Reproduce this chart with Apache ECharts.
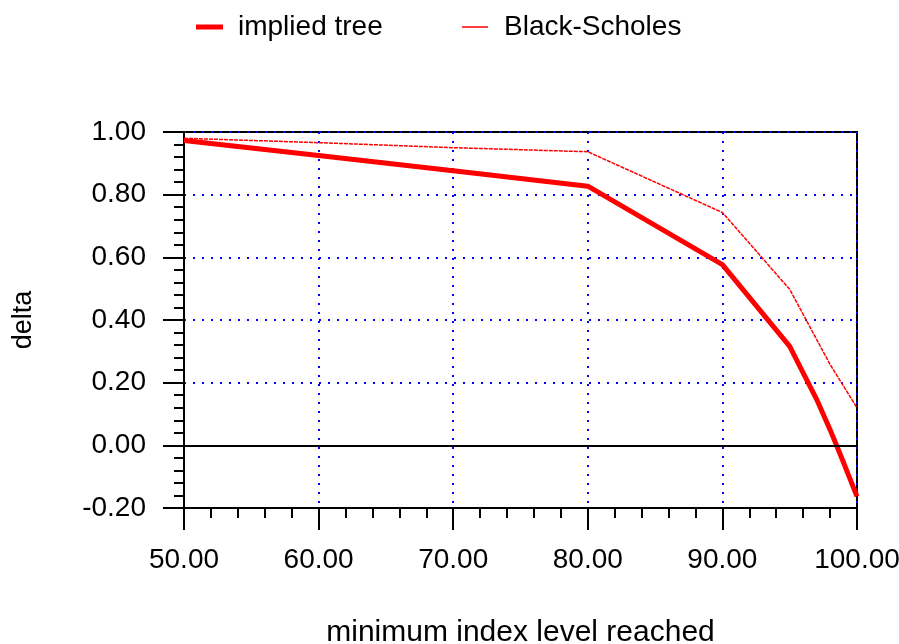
<!DOCTYPE html>
<html>
<head>
<meta charset="utf-8">
<script src="https://cdn.jsdelivr.net/npm/echarts@6/dist/echarts.min.js"></script>
<style>html,body{margin:0;padding:0;background:#fff;}#c{width:899px;height:644px;}</style>
</head>
<body>
<div id="c"></div>
<script>
const seriesNames = ['implied tree', 'Black-Scholes'];
const xImplied = [50, 60, 70, 80, 90, 95, 97, 98, 99, 100];
const impliedTree = [0.973, 0.925, 0.876, 0.827, 0.577, 0.316, 0.147, 0.05, -0.055, -0.163];
const xBS = [50, 60, 70, 80, 90, 95, 98, 100];
const blackScholes = [0.98, 0.966, 0.95, 0.937, 0.743, 0.498, 0.258, 0.12];
const xTitle = 'minimum index level reached';
const yTitle = 'delta';

const FONT = 'Liberation Sans, Arial, sans-serif';
const chart = echarts.init(document.getElementById('c'), null, {renderer: 'canvas'});
chart.setOption({
  animation: false,
  backgroundColor: '#fff',
  legend: [
    {data: [{name: seriesNames[0], icon: 'rect'}], left: 196, top: 13, padding: 0, itemWidth: 27, itemHeight: 5,
     itemStyle: {color: '#ff0000'},
     textStyle: {fontFamily: FONT, fontSize: 28, color: '#000', padding: [0, 0, 0, 10]}},
    {data: [{name: seriesNames[1], icon: 'rect'}], left: 462, top: 13, padding: 0, itemWidth: 26, itemHeight: 1.5,
     itemStyle: {color: '#ff0000'},
     textStyle: {fontFamily: FONT, fontSize: 28, color: '#000', padding: [0, 0, 0, 11]}}
  ],
  grid: {left: 184, right: 42, top: 132, bottom: 136, show: true, borderColor: '#000', borderWidth: 2,
         backgroundColor: 'transparent', containLabel: false, outerBoundsMode: 'none'},
  xAxis: {
    type: 'value', min: 50, max: 100, interval: 10,
    name: xTitle, nameLocation: 'middle', nameGap: 110,
    nameTextStyle: {fontFamily: FONT, fontSize: 30, color: '#000'},
    axisLine: {show: true, onZero: false, lineStyle: {color: '#000', width: 2}},
    axisTick: {show: true, length: 22, lineStyle: {color: '#000', width: 2}},
    minorTick: {show: true, splitNumber: 5, length: 10, lineStyle: {color: '#000', width: 2}},
    axisLabel: {margin: 38, fontFamily: FONT, fontSize: 28, color: '#000', formatter: v => v.toFixed(2)},
    splitLine: {show: true, lineStyle: {color: '#0000ff', width: 2, type: [2, 7]}}
  },
  yAxis: {
    type: 'value', min: -0.2, max: 1.0, interval: 0.2,
    name: yTitle, nameLocation: 'middle', nameGap: 147,
    nameTextStyle: {fontFamily: FONT, fontSize: 27, color: '#000'},
    axisLine: {show: true, onZero: false, lineStyle: {color: '#000', width: 2}},
    axisTick: {show: true, length: 21, lineStyle: {color: '#000', width: 2}},
    minorTick: {show: true, splitNumber: 5, length: 10, lineStyle: {color: '#000', width: 2}},
    axisLabel: {margin: 38, fontFamily: FONT, fontSize: 28, color: '#000', formatter: v => v.toFixed(2)},
    splitLine: {show: true, lineStyle: {color: '#0000ff', width: 2, type: [2, 7]}}
  },
  series: [
    {
      name: seriesNames[0], type: 'line', symbol: 'none', z: 4,
      data: xImplied.map((x, i) => [x, impliedTree[i]]),
      lineStyle: {color: '#ff0000', width: 5},
      itemStyle: {color: '#ff0000'},
      markLine: {silent: true, symbol: 'none', label: {show: false},
        lineStyle: {color: '#000', width: 2, type: 'solid'}, data: [{yAxis: 0}]}
    },
    {
      name: seriesNames[1], type: 'line', symbol: 'none', z: 3,
      data: xBS.map((x, i) => [x, blackScholes[i]]),
      lineStyle: {color: '#ff0000', width: 1.5, type: [4, 1]},
      itemStyle: {color: '#ff0000'}
    }
  ]
});
</script>
</body>
</html>
